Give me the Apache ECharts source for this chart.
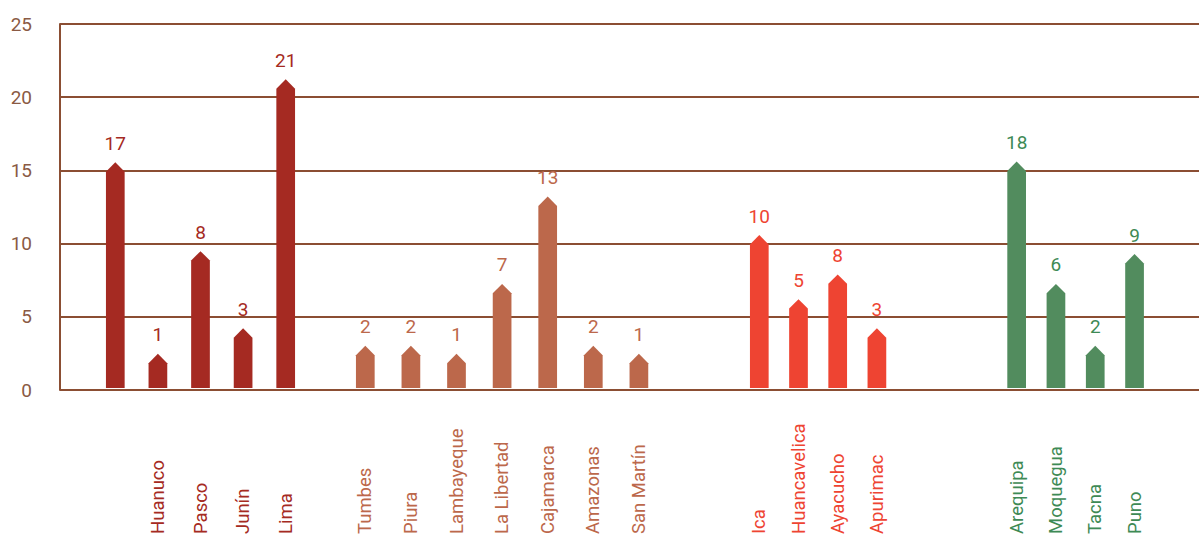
<!DOCTYPE html>
<html>
<head>
<meta charset="utf-8">
<script src="https://cdn.jsdelivr.net/npm/echarts@6/dist/echarts.min.js"></script>
<style>
html,body{margin:0;padding:0;background:#fff;}
#chart{width:1199px;height:537px;}
</style>
</head>
<body>
<div id="chart"></div>
<script>
// Y axis ticks
var yMin = 0, yMax = 25, yStep = 5;

// Group 1
var categories1 = ['', 'Huanuco', 'Pasco', 'Junín', 'Lima'];
var bars1 = [15.5, 2.35, 9.4, 4.1, 21.2];
var labels1 = [17, 1, 8, 3, 21];

// Group 2
var categories2 = ['Tumbes', 'Piura', 'Lambayeque', 'La Libertad', 'Cajamarca', 'Amazonas', 'San Martín'];
var bars2 = [2.9, 2.9, 2.35, 7.15, 13.15, 2.9, 2.35];
var labels2 = [2, 2, 1, 7, 13, 2, 1];

// Group 3
var categories3 = ['Ica', 'Huancavelica', 'Ayacucho', 'Apurimac'];
var bars3 = [10.5, 6.1, 7.8, 4.1];
var labels3 = [10, 5, 8, 3];

// Group 4
var categories4 = ['Arequipa', 'Moquegua', 'Tacna', 'Puno'];
var bars4 = [15.55, 7.15, 2.9, 9.2];
var labels4 = [18, 6, 2, 9];

var groups = [
  {cats: categories1, bars: bars1, labels: labels1, color: '#A52A22', text: '#A52A22', left: 94, width: 213},
  {cats: categories2, bars: bars2, labels: labels2, color: '#BC684B', text: '#BC684B', left: 342.5, width: 319.2},
  {cats: categories3, bars: bars3, labels: labels3, color: '#EE4432', text: '#EE4432', left: 739.7, width: 156.8},
  {cats: categories4, bars: bars4, labels: labels4, color: '#528C5E', text: '#3E8A55', left: 997, width: 157.2}
];

var FONT = 'Roboto, "Noto Sans", sans-serif';
var AXIS = '#8B4E33';
var TOP = 24, BOTTOM = 147;
var BAR_W = 18.7;

var grids = [{left: 60, right: 0, top: TOP, bottom: BOTTOM}];
var xAxes = [{gridIndex: 0, type: 'value', show: false, min: 0, max: 1}];
var yAxes = [{
  gridIndex: 0, type: 'value', min: yMin, max: yMax, interval: yStep,
  axisLine: {show: true, lineStyle: {color: AXIS, width: 2}},
  axisTick: {show: false},
  splitLine: {show: true, lineStyle: {color: AXIS, width: 2}},
  axisLabel: {color: '#8A5A44', fontSize: 19, fontFamily: FONT, margin: 28}
}];
var series = [];

function makeRender(color, textColor) {
  return function (params, api) {
    var x = api.value(0);
    var v = api.value(1);
    var lab = api.value(2);
    var top = api.coord([x, v]);
    var base = api.coord([x, 0]);
    var hw = BAR_W / 2;
    var h = hw;
    var cx = top[0];
    return {
      type: 'group',
      children: [
        {
          type: 'polygon',
          shape: {points: [
            [cx - hw, base[1]], [cx - hw, top[1] + h], [cx, top[1]],
            [cx + hw, top[1] + h], [cx + hw, base[1]]
          ]},
          style: {fill: color}
        },
        {
          type: 'text',
          style: {
            text: String(lab), x: cx, y: top[1] - 19,
            align: 'center', verticalAlign: 'middle',
            fill: textColor, font: '19px ' + FONT
          }
        }
      ]
    };
  };
}

groups.forEach(function (g, i) {
  var gi = i + 1;
  grids.push({left: g.left, width: g.width, top: TOP, bottom: BOTTOM});
  xAxes.push({
    gridIndex: gi, type: 'category', data: g.cats,
    axisLine: {show: false}, axisTick: {show: false}, splitLine: {show: false},
    axisLabel: {
      rotate: 90, align: 'left', verticalAlign: 'middle', margin: 146,
      color: g.text, fontSize: 18.5, fontFamily: FONT, interval: 0
    }
  });
  yAxes.push({gridIndex: gi, type: 'value', min: yMin, max: yMax, show: false, splitLine: {show: false}});
  var data = g.bars.map(function (b, k) { return [k, b, g.labels[k]]; });
  series.push({
    type: 'custom', xAxisIndex: gi, yAxisIndex: gi,
    renderItem: makeRender(g.color, g.text),
    encode: {x: 0, y: 1},
    data: data, clip: false, silent: true
  });
});

var chart = echarts.init(document.getElementById('chart'), null, {renderer: 'svg'});
chart.setOption({
  animation: false,
  backgroundColor: '#fff',
  grid: grids,
  xAxis: xAxes,
  yAxis: yAxes,
  series: series
});
</script>
</body>
</html>
